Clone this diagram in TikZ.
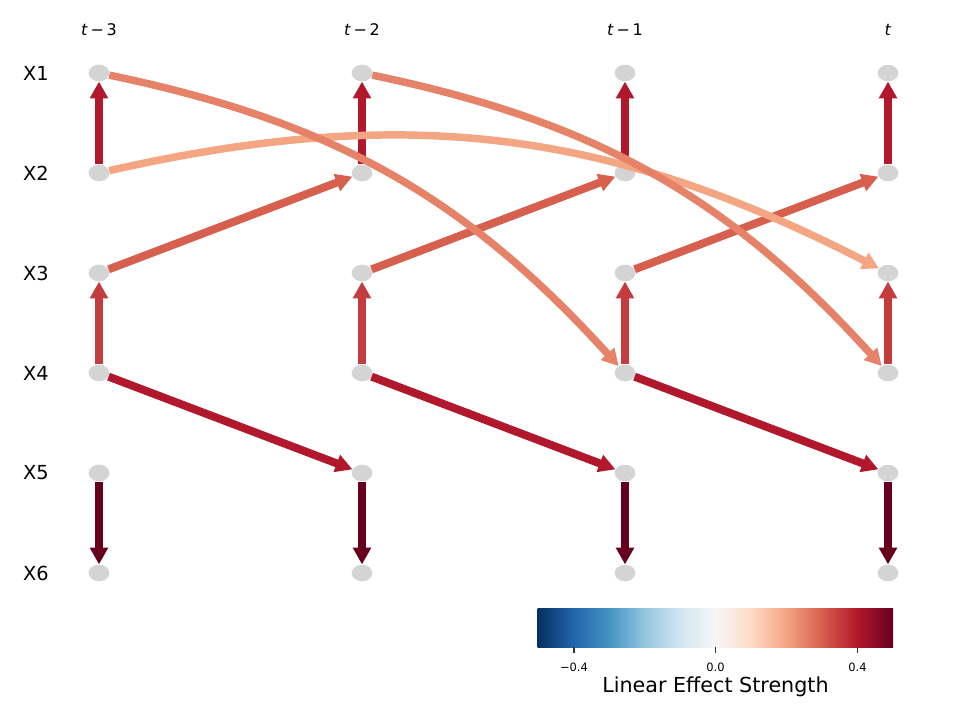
\documentclass[tikz,border=0pt]{standalone}
\usepackage{fontspec}
\setmainfont{DejaVu Sans}
\usetikzlibrary{shapes.geometric,arrows.meta}
% edge colours (RdBu_r)
\definecolor{redA}{HTML}{B2182B}
\definecolor{redB}{HTML}{C43C3E}
\definecolor{redC}{HTML}{67001F}
\definecolor{redD}{HTML}{D6604D}
\definecolor{redE}{HTML}{E58267}
\definecolor{redF}{HTML}{F4A582}
% colorbar stops
\definecolor{cb0}{HTML}{053061}
\definecolor{cb1}{HTML}{2166AC}
\definecolor{cb2}{HTML}{4393C3}
\definecolor{cb3}{HTML}{92C5DE}
\definecolor{cb4}{HTML}{D1E5F0}
\definecolor{cb5}{HTML}{F7F7F7}
\definecolor{cb6}{HTML}{FDDBC7}
\definecolor{cb7}{HTML}{F4A582}
\definecolor{cb8}{HTML}{D6604D}
\definecolor{cb9}{HTML}{B2182B}
\definecolor{cb10}{HTML}{67001F}
\begin{document}
\begin{tikzpicture}[x=0.75pt, y=-0.75pt,
    var/.style={ellipse, fill=black!17, minimum width=15.5pt, minimum height=12.5pt, inner sep=0pt},
    lag/.style={line width=6pt, -{Triangle[length=12.5pt,width=13pt]}},
    arc/.style={line width=5.6pt, -{Triangle[length=12.5pt,width=13pt]}, bend left=18},
    rowlab/.style={font=\fontsize{14.5pt}{16pt}\selectfont},
    collab/.style={font=\fontsize{12pt}{14pt}\selectfont}]
    \useasboundingbox (0,0) rectangle (960,720);
    % variables
    \foreach \c [count=\i] in {99,362,625,888}
        \foreach \r in {1,...,6}
            \node[var] (x\r\i) at (\c,{73+100*(\r-1)}) {};
    \foreach \r in {1,...,6}
        \node[rowlab] (lab\r) at (36,{73+100*(\r-1)}) {X\r};
    \node[collab] (c1) at (99,30) {\textit{t}\,−\,3};
    \node[collab] (c2) at (362,30) {\textit{t}\,−\,2};
    \node[collab] (c3) at (625,30) {\textit{t}\,−\,1};
    \node[collab] (c4) at (888,30) {\textit{t}};
    % contemporaneous edges
    \foreach \i in {1,...,4}{
        \draw[lag, redA] (x2\i) -- (x1\i);
        \draw[lag, redB] (x4\i) -- (x3\i);
        \draw[lag, redC] (x5\i) -- (x6\i);
    }
    % lagged edges
    \foreach \i/\j in {1/2,2/3,3/4}{
        \draw[lag, redD] (x3\i) -- (x2\j);
        \draw[lag, redA] (x4\i) -- (x5\j);
    }
    \draw[arc, redF, bend left=20] (x21) to (x34);
    \draw[arc, redE] (x11) to (x43);
    \draw[arc, redE] (x12) to (x44);
    % colorbar
    \foreach \a/\b [count=\k from 0] in {cb0/cb1,cb1/cb2,cb2/cb3,cb3/cb4,cb4/cb5,cb5/cb6,cb6/cb7,cb7/cb8,cb8/cb9,cb9/cb10}
        \shade[left color=\a, right color=\b] ({538+35.5*\k-0.3},608) rectangle ({538+35.5*(\k+1)},647);
    \foreach \v/\t in {574/−0.4,715.5/0.0,857.5/0.4}{
        \draw[line width=0.8pt, black!80] (\v,647) -- (\v,653);
        \node[font=\fontsize{8.6pt}{10pt}\selectfont] at (\v,667) {\t};
    }
    \node[font=\fontsize{15.5pt}{18pt}\selectfont] (cblab) at (715.5,687) {Linear Effect Strength};
\end{tikzpicture}
\end{document}
